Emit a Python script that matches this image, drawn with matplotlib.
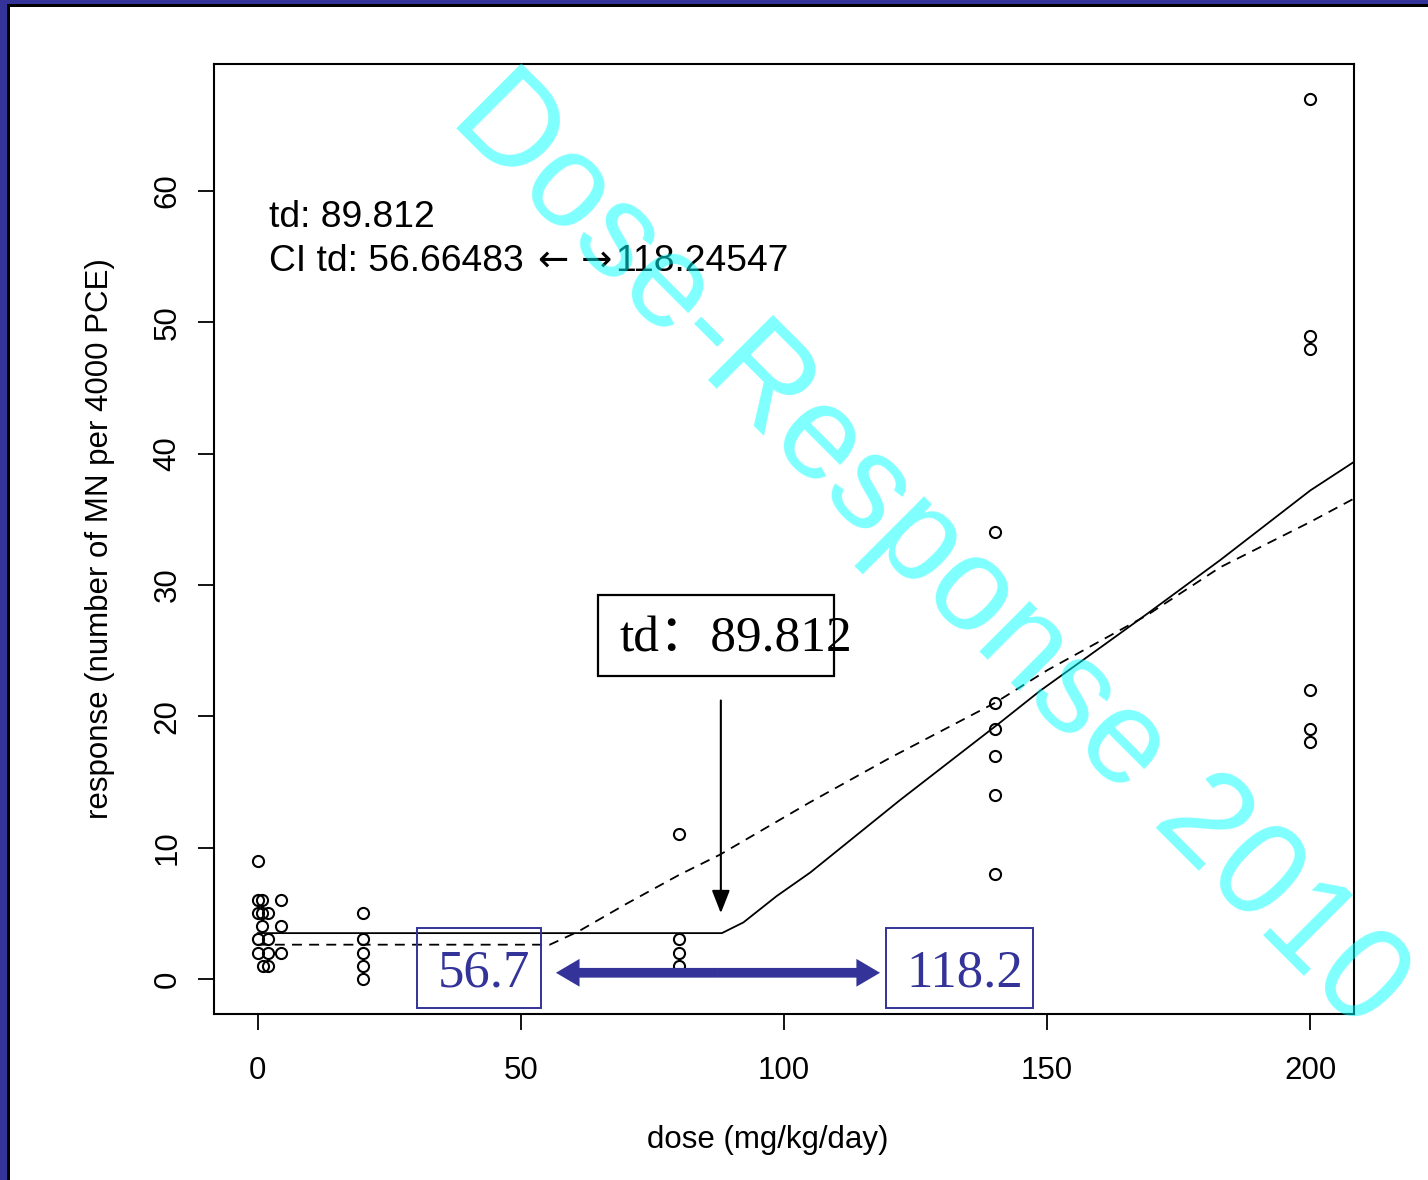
import numpy as np
import matplotlib as mpl
mpl.use('Agg')
import matplotlib.pyplot as plt
from matplotlib.patches import Rectangle, FancyArrowPatch

plt.rcParams['font.family'] = ['Liberation Sans', 'DejaVu Sans']

# ---- data ----
dose = [0, 0, 0.8, 4.5, 0, 0.8, 2, 0.8, 4.5, 0, 2, 0, 2, 4.5, 1.1, 2,
        20, 20, 20, 20, 20,
        80, 80, 80, 80,
        140, 140, 140, 140, 140, 140,
        200, 200, 200, 200, 200, 200]
response = [9, 6, 6, 6, 5, 5, 5, 4, 4, 3, 3, 2, 2, 2, 1, 1,
            5, 3, 2, 1, 0,
            11, 3, 2, 1,
            34, 21, 19, 17, 14, 8,
            67, 49, 48, 22, 19, 18]

# fitted hockey-stick curve (solid)
fit_dose = [0, 88.2, 92.3, 98.6, 105, 122, 141, 148.7, 160, 169, 182.9, 200, 208.4]
fit_resp = [3.48, 3.48, 4.3, 6.3, 8.1, 13.6, 19.5, 21.95, 25.2, 27.8, 31.9, 37.2, 39.4]

# smoothed curve (dashed)
smooth_dose = [0, 55.5, 60.9, 70, 80, 87.8, 104.9, 120, 140, 150, 169, 182.9, 200, 208.4]
smooth_resp = [2.6, 2.6, 3.6, 5.7, 7.9, 9.45, 13.44, 16.8, 21.0, 23.5, 27.7, 31.35, 34.8, 36.6]

td = 89.812
td_mark = 88.0
ci_low, ci_high = 56.66483, 118.24547

x_ticks = [0, 50, 100, 150, 200]
y_ticks = [0, 10, 20, 30, 40, 50, 60]

W, H = 1428, 1180
fig = plt.figure(figsize=(W / 100, H / 100), dpi=100)

# slide frame: blue band + thin black line on left and top
blue = '#333399'
fig.add_artist(Rectangle((0, 0), 7 / W, 1, transform=fig.transFigure, color=blue, lw=0))
fig.add_artist(Rectangle((7 / W, 0), 3 / W, 1 - 4 / H, transform=fig.transFigure, color='black', lw=0))
fig.add_artist(Rectangle((0, 1 - 4 / H), 1, 4 / H, transform=fig.transFigure, color=blue, lw=0))
fig.add_artist(Rectangle((7 / W, 1 - 6.5 / H), 1, 2.5 / H, transform=fig.transFigure, color='black', lw=0))

ax = fig.add_axes([214 / W, 1 - 1014 / H, (1354 - 214) / W, (1014 - 64) / H])

ax.plot(dose, response, 'o', mfc='none', mec='black', ms=8, mew=1.5, zorder=3)
ax.plot(fit_dose, fit_resp, '-', color='black', lw=1.3)
ax.plot(smooth_dose, smooth_resp, color='black', lw=1.3, dashes=(5.5, 4))

ax.set_xlim(-8.3, 208.3)
ax.set_ylim(-2.68, 69.68)
ax.set_xticks(x_ticks)
ax.set_yticks(y_ticks)
ax.set_yticklabels([str(v) for v in y_ticks], rotation=90, va='center')
for s in ax.spines.values():
    s.set_linewidth(1.5)
ax.tick_params(axis='both', length=11.5, width=1.3, labelsize=22.5)
ax.tick_params(axis='x', pad=19)
ax.tick_params(axis='y', pad=11)

ax.text(-0.1, 0.5, 'response (number of MN per 4000 PCE)', transform=ax.transAxes,
        rotation=90, ha='center', va='center', fontsize=22.5)
ax.text(0.486, -0.1326, 'dose (mg/kg/day)', transform=ax.transAxes,
        ha='center', va='center', fontsize=22.5)

# result text top-left; arrows set in DejaVu so they match the slide's weight
ax.text(2.1, 57.3, f'td: {td}', fontsize=26.8, va='baseline', ha='left')
t1 = ax.text(2.1, 53.9, f'CI td: {ci_low}', fontsize=26.8, va='baseline', ha='left')
fig.canvas.draw()
rend = fig.canvas.get_renderer()
inv = ax.transData.inverted()
x1 = t1.get_window_extent(rend).x1
t2 = ax.text(inv.transform((x1 + 15, 0))[0], 53.9, '\u2190 \u2192', fontsize=26.8,
             va='baseline', ha='left', family='DejaVu Sans')
fig.canvas.draw()
x2 = t2.get_window_extent(rend).x1
ax.text(inv.transform((x2 + 2, 0))[0], 53.9, f'{ci_high}', fontsize=26.8,
        va='baseline', ha='left')

# td annotation box (text spills past the box, as in the slide)
ax.add_patch(Rectangle((64.6, 23.09), 109.5 - 64.6, 29.27 - 23.09,
                       facecolor='white', edgecolor='black', lw=1.6, zorder=4))
ax.text(68.8, 25.9, 'td\uff1a89.812', fontsize=37, ha='left', va='center',
        family=['Liberation Serif', 'Noto Sans CJK SC'], zorder=5)

ax.add_artist(FancyArrowPatch((td_mark, 21.2), (td_mark, 5.0),
                              arrowstyle='-|>,head_length=1.4,head_width=0.55',
                              mutation_scale=10, color='black', lw=1.5,
                              shrinkA=0, shrinkB=0, zorder=5))

# CI boxes in blue
for lo, hi, label, cx in [(30.2, 53.8, '56.7', 43.0), (119.4, 147.3, '118.2', 134.4)]:
    ax.add_patch(Rectangle((lo, -2.21), hi - lo, 3.89 + 2.21, facecolor='none',
                           edgecolor=blue, lw=1.4, zorder=4))
    ax.text(cx, 0.4, label, fontsize=38, color=blue, ha='center', va='center',
            family='Liberation Serif', zorder=5)

mid = (ci_low + ci_high) / 2
for end in (ci_low, ci_high):
    ax.add_artist(FancyArrowPatch((mid, 0.46), (end, 0.46),
                                  arrowstyle='simple,head_length=1.7,head_width=2.0,tail_width=0.7',
                                  mutation_scale=10, color=blue, lw=0,
                                  shrinkA=0, shrinkB=0, zorder=5))

# watermark
fig.text(928 / W, 1 - 552 / H, 'Dose-Response 2010', rotation=-45,
         rotation_mode='anchor', ha='center', va='center', fontsize=96,
         color='cyan', alpha=0.5, zorder=10)

fig.savefig('out.png', dpi=100)
